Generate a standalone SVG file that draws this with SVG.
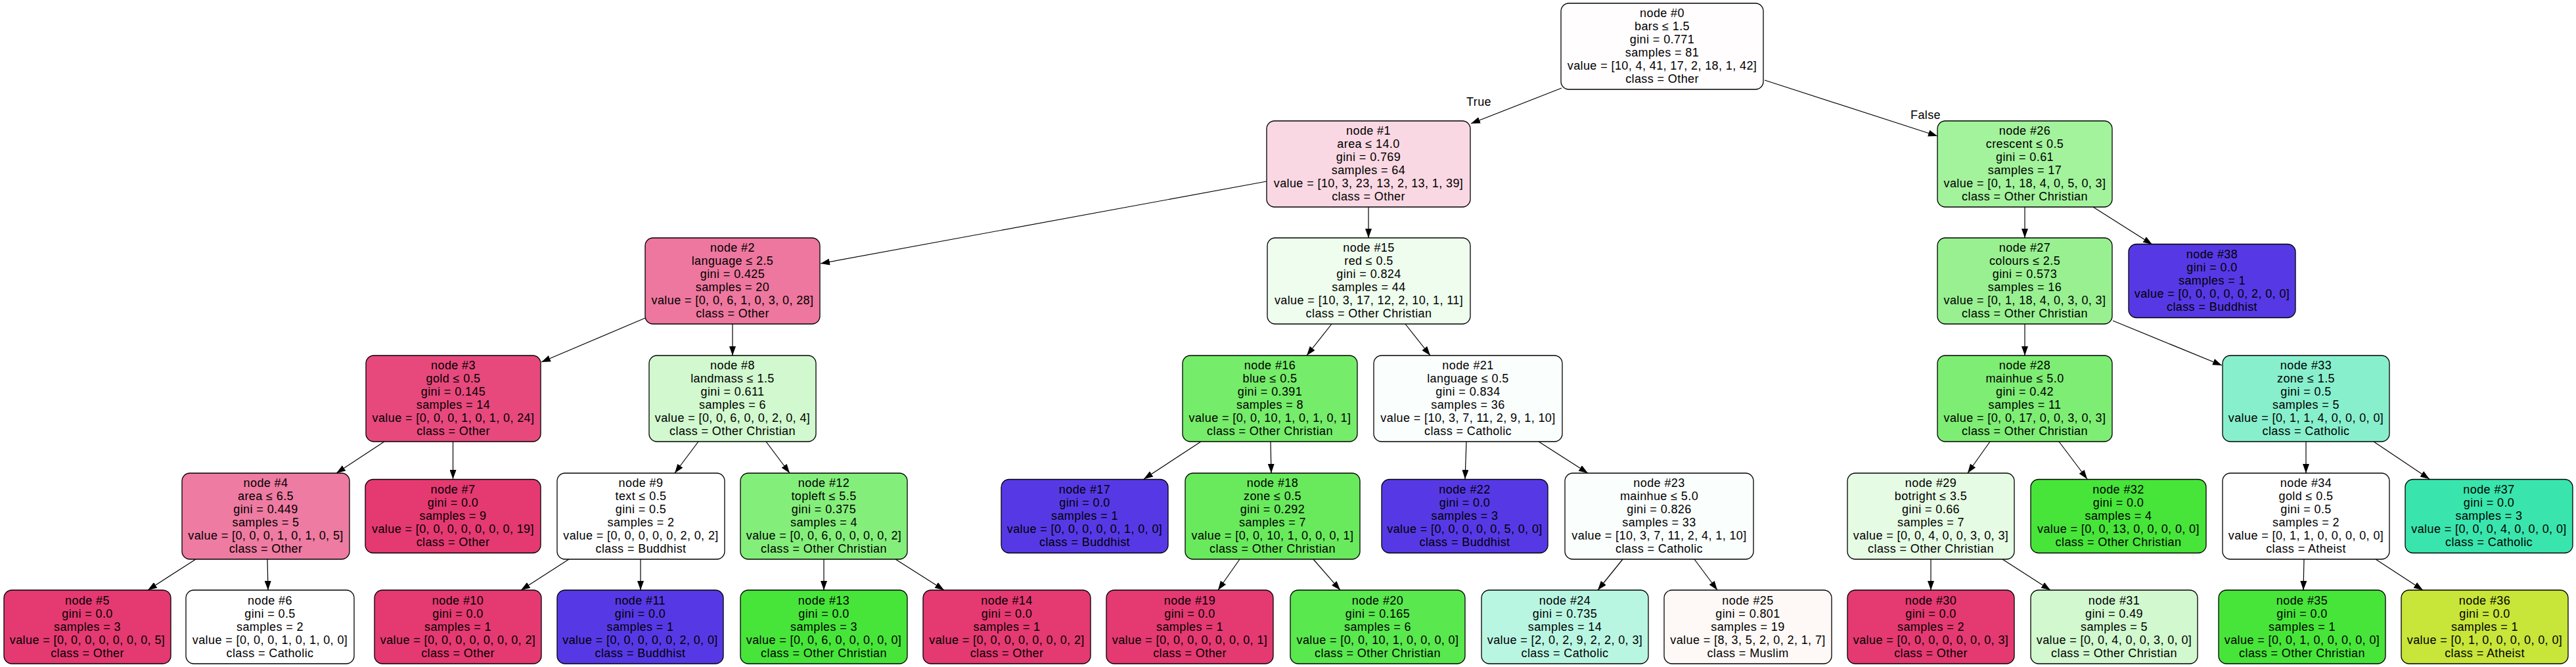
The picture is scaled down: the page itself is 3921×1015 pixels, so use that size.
<svg xmlns="http://www.w3.org/2000/svg" width="3921" height="1015" viewBox="0 0 3921 1015">
<style>
.n rect{stroke:#000;stroke-width:1.3}
text{font-family:"Liberation Sans",Arial,Helvetica,sans-serif;font-size:18px;letter-spacing:0.4px;text-anchor:middle;fill:#000}
.e line{stroke:#000;stroke-width:1.2;marker-end:url(#a)}
</style>
<defs>
<marker id="a" markerUnits="userSpaceOnUse" markerWidth="14" markerHeight="10" refX="14" refY="5" orient="auto" viewBox="0 0 14 10">
<path d="M0,0 L14,5 L0,10 z" fill="#000"/>
</marker>
</defs>
<rect width="3921" height="1015" fill="#fff"/>
<g id="edges" class="e">
<line x1="2377" y1="134" x2="2239" y2="188"/>
<line x1="2686" y1="122" x2="2949" y2="207"/>
<line x1="1928" y1="276" x2="1249" y2="401"/>
<line x1="2083" y1="315" x2="2083" y2="362"/>
<line x1="982" y1="484" x2="824" y2="551"/>
<line x1="1115" y1="493" x2="1115" y2="541"/>
<line x1="2027" y1="493" x2="1989" y2="541"/>
<line x1="2139" y1="493" x2="2177" y2="541"/>
<line x1="3082" y1="315" x2="3082" y2="362"/>
<line x1="3186" y1="315" x2="3276" y2="372"/>
<line x1="3082" y1="493" x2="3082" y2="541"/>
<line x1="3216" y1="488" x2="3382" y2="556"/>
<line x1="585" y1="672" x2="512" y2="720"/>
<line x1="689.5" y1="672" x2="689.5" y2="729"/>
<line x1="1063" y1="672" x2="1027" y2="720"/>
<line x1="1166" y1="672" x2="1202" y2="720"/>
<line x1="1828" y1="672" x2="1741" y2="729"/>
<line x1="1934" y1="672" x2="1935" y2="720"/>
<line x1="2232" y1="672" x2="2230" y2="729"/>
<line x1="2342" y1="672" x2="2417" y2="720"/>
<line x1="3029" y1="672" x2="2995" y2="720"/>
<line x1="3134" y1="672" x2="3177" y2="729"/>
<line x1="3510" y1="672" x2="3510" y2="720"/>
<line x1="3613" y1="672" x2="3698" y2="729"/>
<line x1="298" y1="851" x2="225" y2="898"/>
<line x1="407" y1="851" x2="408" y2="898"/>
<line x1="866" y1="851" x2="793" y2="898"/>
<line x1="975" y1="851" x2="975" y2="898"/>
<line x1="1254" y1="851" x2="1254" y2="898"/>
<line x1="1363" y1="851" x2="1437" y2="898"/>
<line x1="1887" y1="851" x2="1854" y2="898"/>
<line x1="1999" y1="851" x2="2040" y2="898"/>
<line x1="2470" y1="851" x2="2432" y2="898"/>
<line x1="2579" y1="851" x2="2614" y2="898"/>
<line x1="2939" y1="851" x2="2939" y2="898"/>
<line x1="3048" y1="851" x2="3121" y2="898"/>
<line x1="3507" y1="851" x2="3506" y2="898"/>
<line x1="3616" y1="851" x2="3688" y2="898"/>
<text x="2251" y="161">True</text>
<text x="2931" y="181">False</text>
</g>
<g id="node0" class="n"><rect x="2376" y="5" width="308" height="131" rx="12" fill="#fffdfe"/>
<text y="26"><tspan x="2530">node #0</tspan><tspan x="2530" dy="20">bars ≤ 1.5</tspan><tspan x="2530" dy="20">gini = 0.771</tspan><tspan x="2530" dy="20">samples = 81</tspan><tspan x="2530" dy="20">value = [10, 4, 41, 17, 2, 18, 1, 42]</tspan><tspan x="2530" dy="20">class = Other</tspan></text></g>
<g id="node1" class="n"><rect x="1928" y="184" width="310" height="131" rx="12" fill="#fad8e3"/>
<text y="205"><tspan x="2083">node #1</tspan><tspan x="2083" dy="20">area ≤ 14.0</tspan><tspan x="2083" dy="20">gini = 0.769</tspan><tspan x="2083" dy="20">samples = 64</tspan><tspan x="2083" dy="20">value = [10, 3, 23, 13, 2, 13, 1, 39]</tspan><tspan x="2083" dy="20">class = Other</tspan></text></g>
<g id="node26" class="n"><rect x="2949" y="184" width="266" height="131" rx="12" fill="#a3f29c"/>
<text y="205"><tspan x="3082">node #26</tspan><tspan x="3082" dy="20">crescent ≤ 0.5</tspan><tspan x="3082" dy="20">gini = 0.61</tspan><tspan x="3082" dy="20">samples = 17</tspan><tspan x="3082" dy="20">value = [0, 1, 18, 4, 0, 5, 0, 3]</tspan><tspan x="3082" dy="20">class = Other Christian</tspan></text></g>
<g id="node2" class="n"><rect x="982" y="362" width="266" height="131" rx="12" fill="#ed779e"/>
<text y="383"><tspan x="1115">node #2</tspan><tspan x="1115" dy="20">language ≤ 2.5</tspan><tspan x="1115" dy="20">gini = 0.425</tspan><tspan x="1115" dy="20">samples = 20</tspan><tspan x="1115" dy="20">value = [0, 0, 6, 1, 0, 3, 0, 28]</tspan><tspan x="1115" dy="20">class = Other</tspan></text></g>
<g id="node15" class="n"><rect x="1929" y="362" width="309" height="131" rx="12" fill="#eefded"/>
<text y="383"><tspan x="2083.5">node #15</tspan><tspan x="2083.5" dy="20">red ≤ 0.5</tspan><tspan x="2083.5" dy="20">gini = 0.824</tspan><tspan x="2083.5" dy="20">samples = 44</tspan><tspan x="2083.5" dy="20">value = [10, 3, 17, 12, 2, 10, 1, 11]</tspan><tspan x="2083.5" dy="20">class = Other Christian</tspan></text></g>
<g id="node27" class="n"><rect x="2949" y="362" width="266" height="131" rx="12" fill="#98f090"/>
<text y="383"><tspan x="3082">node #27</tspan><tspan x="3082" dy="20">colours ≤ 2.5</tspan><tspan x="3082" dy="20">gini = 0.573</tspan><tspan x="3082" dy="20">samples = 16</tspan><tspan x="3082" dy="20">value = [0, 1, 18, 4, 0, 3, 0, 3]</tspan><tspan x="3082" dy="20">class = Other Christian</tspan></text></g>
<g id="node38" class="n"><rect x="3240" y="371.5" width="254" height="112" rx="12" fill="#5639e5"/>
<text y="393"><tspan x="3367">node #38</tspan><tspan x="3367" dy="20">gini = 0.0</tspan><tspan x="3367" dy="20">samples = 1</tspan><tspan x="3367" dy="20">value = [0, 0, 0, 0, 0, 2, 0, 0]</tspan><tspan x="3367" dy="20">class = Buddhist</tspan></text></g>
<g id="node3" class="n"><rect x="557" y="541" width="266" height="131" rx="12" fill="#e7497d"/>
<text y="562"><tspan x="690">node #3</tspan><tspan x="690" dy="20">gold ≤ 0.5</tspan><tspan x="690" dy="20">gini = 0.145</tspan><tspan x="690" dy="20">samples = 14</tspan><tspan x="690" dy="20">value = [0, 0, 0, 1, 0, 1, 0, 24]</tspan><tspan x="690" dy="20">class = Other</tspan></text></g>
<g id="node8" class="n"><rect x="988" y="541" width="254" height="131" rx="12" fill="#d1f8ce"/>
<text y="562"><tspan x="1115">node #8</tspan><tspan x="1115" dy="20">landmass ≤ 1.5</tspan><tspan x="1115" dy="20">gini = 0.611</tspan><tspan x="1115" dy="20">samples = 6</tspan><tspan x="1115" dy="20">value = [0, 0, 6, 0, 0, 2, 0, 4]</tspan><tspan x="1115" dy="20">class = Other Christian</tspan></text></g>
<g id="node16" class="n"><rect x="1800" y="541" width="266" height="131" rx="12" fill="#75ec6a"/>
<text y="562"><tspan x="1933">node #16</tspan><tspan x="1933" dy="20">blue ≤ 0.5</tspan><tspan x="1933" dy="20">gini = 0.391</tspan><tspan x="1933" dy="20">samples = 8</tspan><tspan x="1933" dy="20">value = [0, 0, 10, 1, 0, 1, 0, 1]</tspan><tspan x="1933" dy="20">class = Other Christian</tspan></text></g>
<g id="node21" class="n"><rect x="2091" y="541" width="287" height="131" rx="12" fill="#fafefd"/>
<text y="562"><tspan x="2234.5">node #21</tspan><tspan x="2234.5" dy="20">language ≤ 0.5</tspan><tspan x="2234.5" dy="20">gini = 0.834</tspan><tspan x="2234.5" dy="20">samples = 36</tspan><tspan x="2234.5" dy="20">value = [10, 3, 7, 11, 2, 9, 1, 10]</tspan><tspan x="2234.5" dy="20">class = Catholic</tspan></text></g>
<g id="node28" class="n"><rect x="2949" y="541" width="266" height="131" rx="12" fill="#7eed74"/>
<text y="562"><tspan x="3082">node #28</tspan><tspan x="3082" dy="20">mainhue ≤ 5.0</tspan><tspan x="3082" dy="20">gini = 0.42</tspan><tspan x="3082" dy="20">samples = 11</tspan><tspan x="3082" dy="20">value = [0, 0, 17, 0, 0, 3, 0, 3]</tspan><tspan x="3082" dy="20">class = Other Christian</tspan></text></g>
<g id="node33" class="n"><rect x="3383" y="541" width="254" height="131" rx="12" fill="#88efcd"/>
<text y="562"><tspan x="3510">node #33</tspan><tspan x="3510" dy="20">zone ≤ 1.5</tspan><tspan x="3510" dy="20">gini = 0.5</tspan><tspan x="3510" dy="20">samples = 5</tspan><tspan x="3510" dy="20">value = [0, 1, 1, 4, 0, 0, 0, 0]</tspan><tspan x="3510" dy="20">class = Catholic</tspan></text></g>
<g id="node4" class="n"><rect x="277" y="720" width="255" height="131" rx="12" fill="#ee7ba1"/>
<text y="741"><tspan x="404.5">node #4</tspan><tspan x="404.5" dy="20">area ≤ 6.5</tspan><tspan x="404.5" dy="20">gini = 0.449</tspan><tspan x="404.5" dy="20">samples = 5</tspan><tspan x="404.5" dy="20">value = [0, 0, 0, 1, 0, 1, 0, 5]</tspan><tspan x="404.5" dy="20">class = Other</tspan></text></g>
<g id="node7" class="n"><rect x="556" y="729.5" width="267" height="112" rx="12" fill="#e53972"/>
<text y="751"><tspan x="689.5">node #7</tspan><tspan x="689.5" dy="20">gini = 0.0</tspan><tspan x="689.5" dy="20">samples = 9</tspan><tspan x="689.5" dy="20">value = [0, 0, 0, 0, 0, 0, 0, 19]</tspan><tspan x="689.5" dy="20">class = Other</tspan></text></g>
<g id="node9" class="n"><rect x="848" y="720" width="255" height="131" rx="12" fill="#ffffff"/>
<text y="741"><tspan x="975.5">node #9</tspan><tspan x="975.5" dy="20">text ≤ 0.5</tspan><tspan x="975.5" dy="20">gini = 0.5</tspan><tspan x="975.5" dy="20">samples = 2</tspan><tspan x="975.5" dy="20">value = [0, 0, 0, 0, 0, 2, 0, 2]</tspan><tspan x="975.5" dy="20">class = Buddhist</tspan></text></g>
<g id="node12" class="n"><rect x="1127" y="720" width="254" height="131" rx="12" fill="#84ee7b"/>
<text y="741"><tspan x="1254">node #12</tspan><tspan x="1254" dy="20">topleft ≤ 5.5</tspan><tspan x="1254" dy="20">gini = 0.375</tspan><tspan x="1254" dy="20">samples = 4</tspan><tspan x="1254" dy="20">value = [0, 0, 6, 0, 0, 0, 0, 2]</tspan><tspan x="1254" dy="20">class = Other Christian</tspan></text></g>
<g id="node17" class="n"><rect x="1524" y="729.5" width="254" height="112" rx="12" fill="#5639e5"/>
<text y="751"><tspan x="1651">node #17</tspan><tspan x="1651" dy="20">gini = 0.0</tspan><tspan x="1651" dy="20">samples = 1</tspan><tspan x="1651" dy="20">value = [0, 0, 0, 0, 0, 1, 0, 0]</tspan><tspan x="1651" dy="20">class = Buddhist</tspan></text></g>
<g id="node18" class="n"><rect x="1804" y="720" width="266" height="131" rx="12" fill="#69ea5d"/>
<text y="741"><tspan x="1937">node #18</tspan><tspan x="1937" dy="20">zone ≤ 0.5</tspan><tspan x="1937" dy="20">gini = 0.292</tspan><tspan x="1937" dy="20">samples = 7</tspan><tspan x="1937" dy="20">value = [0, 0, 10, 1, 0, 0, 0, 1]</tspan><tspan x="1937" dy="20">class = Other Christian</tspan></text></g>
<g id="node22" class="n"><rect x="2103" y="729.5" width="253" height="112" rx="12" fill="#5639e5"/>
<text y="751"><tspan x="2229.5">node #22</tspan><tspan x="2229.5" dy="20">gini = 0.0</tspan><tspan x="2229.5" dy="20">samples = 3</tspan><tspan x="2229.5" dy="20">value = [0, 0, 0, 0, 0, 5, 0, 0]</tspan><tspan x="2229.5" dy="20">class = Buddhist</tspan></text></g>
<g id="node23" class="n"><rect x="2382" y="720" width="287" height="131" rx="12" fill="#fafefd"/>
<text y="741"><tspan x="2525.5">node #23</tspan><tspan x="2525.5" dy="20">mainhue ≤ 5.0</tspan><tspan x="2525.5" dy="20">gini = 0.826</tspan><tspan x="2525.5" dy="20">samples = 33</tspan><tspan x="2525.5" dy="20">value = [10, 3, 7, 11, 2, 4, 1, 10]</tspan><tspan x="2525.5" dy="20">class = Catholic</tspan></text></g>
<g id="node29" class="n"><rect x="2812" y="720" width="254" height="131" rx="12" fill="#e5fbe3"/>
<text y="741"><tspan x="2939">node #29</tspan><tspan x="2939" dy="20">botright ≤ 3.5</tspan><tspan x="2939" dy="20">gini = 0.66</tspan><tspan x="2939" dy="20">samples = 7</tspan><tspan x="2939" dy="20">value = [0, 0, 4, 0, 0, 3, 0, 3]</tspan><tspan x="2939" dy="20">class = Other Christian</tspan></text></g>
<g id="node32" class="n"><rect x="3091" y="729.5" width="267" height="112" rx="12" fill="#47e539"/>
<text y="751"><tspan x="3224.5">node #32</tspan><tspan x="3224.5" dy="20">gini = 0.0</tspan><tspan x="3224.5" dy="20">samples = 4</tspan><tspan x="3224.5" dy="20">value = [0, 0, 13, 0, 0, 0, 0, 0]</tspan><tspan x="3224.5" dy="20">class = Other Christian</tspan></text></g>
<g id="node34" class="n"><rect x="3383" y="720" width="254" height="131" rx="12" fill="#ffffff"/>
<text y="741"><tspan x="3510">node #34</tspan><tspan x="3510" dy="20">gold ≤ 0.5</tspan><tspan x="3510" dy="20">gini = 0.5</tspan><tspan x="3510" dy="20">samples = 2</tspan><tspan x="3510" dy="20">value = [0, 1, 1, 0, 0, 0, 0, 0]</tspan><tspan x="3510" dy="20">class = Atheist</tspan></text></g>
<g id="node37" class="n"><rect x="3661" y="729.5" width="255" height="112" rx="12" fill="#39e5ac"/>
<text y="751"><tspan x="3788.5">node #37</tspan><tspan x="3788.5" dy="20">gini = 0.0</tspan><tspan x="3788.5" dy="20">samples = 3</tspan><tspan x="3788.5" dy="20">value = [0, 0, 0, 4, 0, 0, 0, 0]</tspan><tspan x="3788.5" dy="20">class = Catholic</tspan></text></g>
<g id="node5" class="n"><rect x="6" y="898" width="254" height="112" rx="12" fill="#e53972"/>
<text y="919.5"><tspan x="133">node #5</tspan><tspan x="133" dy="20">gini = 0.0</tspan><tspan x="133" dy="20">samples = 3</tspan><tspan x="133" dy="20">value = [0, 0, 0, 0, 0, 0, 0, 5]</tspan><tspan x="133" dy="20">class = Other</tspan></text></g>
<g id="node6" class="n"><rect x="283" y="898" width="256" height="112" rx="12" fill="#ffffff"/>
<text y="919.5"><tspan x="411">node #6</tspan><tspan x="411" dy="20">gini = 0.5</tspan><tspan x="411" dy="20">samples = 2</tspan><tspan x="411" dy="20">value = [0, 0, 0, 1, 0, 1, 0, 0]</tspan><tspan x="411" dy="20">class = Catholic</tspan></text></g>
<g id="node10" class="n"><rect x="570" y="898" width="254" height="112" rx="12" fill="#e53972"/>
<text y="919.5"><tspan x="697">node #10</tspan><tspan x="697" dy="20">gini = 0.0</tspan><tspan x="697" dy="20">samples = 1</tspan><tspan x="697" dy="20">value = [0, 0, 0, 0, 0, 0, 0, 2]</tspan><tspan x="697" dy="20">class = Other</tspan></text></g>
<g id="node11" class="n"><rect x="848" y="898" width="253" height="112" rx="12" fill="#5639e5"/>
<text y="919.5"><tspan x="974.5">node #11</tspan><tspan x="974.5" dy="20">gini = 0.0</tspan><tspan x="974.5" dy="20">samples = 1</tspan><tspan x="974.5" dy="20">value = [0, 0, 0, 0, 0, 2, 0, 0]</tspan><tspan x="974.5" dy="20">class = Buddhist</tspan></text></g>
<g id="node13" class="n"><rect x="1127" y="898" width="254" height="112" rx="12" fill="#47e539"/>
<text y="919.5"><tspan x="1254">node #13</tspan><tspan x="1254" dy="20">gini = 0.0</tspan><tspan x="1254" dy="20">samples = 3</tspan><tspan x="1254" dy="20">value = [0, 0, 6, 0, 0, 0, 0, 0]</tspan><tspan x="1254" dy="20">class = Other Christian</tspan></text></g>
<g id="node14" class="n"><rect x="1405" y="898" width="255" height="112" rx="12" fill="#e53972"/>
<text y="919.5"><tspan x="1532.5">node #14</tspan><tspan x="1532.5" dy="20">gini = 0.0</tspan><tspan x="1532.5" dy="20">samples = 1</tspan><tspan x="1532.5" dy="20">value = [0, 0, 0, 0, 0, 0, 0, 2]</tspan><tspan x="1532.5" dy="20">class = Other</tspan></text></g>
<g id="node19" class="n"><rect x="1684" y="898" width="254" height="112" rx="12" fill="#e53972"/>
<text y="919.5"><tspan x="1811">node #19</tspan><tspan x="1811" dy="20">gini = 0.0</tspan><tspan x="1811" dy="20">samples = 1</tspan><tspan x="1811" dy="20">value = [0, 0, 0, 0, 0, 0, 0, 1]</tspan><tspan x="1811" dy="20">class = Other</tspan></text></g>
<g id="node20" class="n"><rect x="1964" y="898" width="266" height="112" rx="12" fill="#59e84d"/>
<text y="919.5"><tspan x="2097">node #20</tspan><tspan x="2097" dy="20">gini = 0.165</tspan><tspan x="2097" dy="20">samples = 6</tspan><tspan x="2097" dy="20">value = [0, 0, 10, 1, 0, 0, 0, 0]</tspan><tspan x="2097" dy="20">class = Other Christian</tspan></text></g>
<g id="node24" class="n"><rect x="2255" y="898" width="254" height="112" rx="12" fill="#b9f6e2"/>
<text y="919.5"><tspan x="2382">node #24</tspan><tspan x="2382" dy="20">gini = 0.735</tspan><tspan x="2382" dy="20">samples = 14</tspan><tspan x="2382" dy="20">value = [2, 0, 2, 9, 2, 2, 0, 3]</tspan><tspan x="2382" dy="20">class = Catholic</tspan></text></g>
<g id="node25" class="n"><rect x="2533" y="898" width="255" height="112" rx="12" fill="#fef9f6"/>
<text y="919.5"><tspan x="2660.5">node #25</tspan><tspan x="2660.5" dy="20">gini = 0.801</tspan><tspan x="2660.5" dy="20">samples = 19</tspan><tspan x="2660.5" dy="20">value = [8, 3, 5, 2, 0, 2, 1, 7]</tspan><tspan x="2660.5" dy="20">class = Muslim</tspan></text></g>
<g id="node30" class="n"><rect x="2812" y="898" width="254" height="112" rx="12" fill="#e53972"/>
<text y="919.5"><tspan x="2939">node #30</tspan><tspan x="2939" dy="20">gini = 0.0</tspan><tspan x="2939" dy="20">samples = 2</tspan><tspan x="2939" dy="20">value = [0, 0, 0, 0, 0, 0, 0, 3]</tspan><tspan x="2939" dy="20">class = Other</tspan></text></g>
<g id="node31" class="n"><rect x="3091" y="898" width="254" height="112" rx="12" fill="#d1f8ce"/>
<text y="919.5"><tspan x="3218">node #31</tspan><tspan x="3218" dy="20">gini = 0.49</tspan><tspan x="3218" dy="20">samples = 5</tspan><tspan x="3218" dy="20">value = [0, 0, 4, 0, 0, 3, 0, 0]</tspan><tspan x="3218" dy="20">class = Other Christian</tspan></text></g>
<g id="node35" class="n"><rect x="3377" y="898" width="254" height="112" rx="12" fill="#47e539"/>
<text y="919.5"><tspan x="3504">node #35</tspan><tspan x="3504" dy="20">gini = 0.0</tspan><tspan x="3504" dy="20">samples = 1</tspan><tspan x="3504" dy="20">value = [0, 0, 1, 0, 0, 0, 0, 0]</tspan><tspan x="3504" dy="20">class = Other Christian</tspan></text></g>
<g id="node36" class="n"><rect x="3655" y="898" width="254" height="112" rx="12" fill="#c8e539"/>
<text y="919.5"><tspan x="3782">node #36</tspan><tspan x="3782" dy="20">gini = 0.0</tspan><tspan x="3782" dy="20">samples = 1</tspan><tspan x="3782" dy="20">value = [0, 1, 0, 0, 0, 0, 0, 0]</tspan><tspan x="3782" dy="20">class = Atheist</tspan></text></g>
</svg>
